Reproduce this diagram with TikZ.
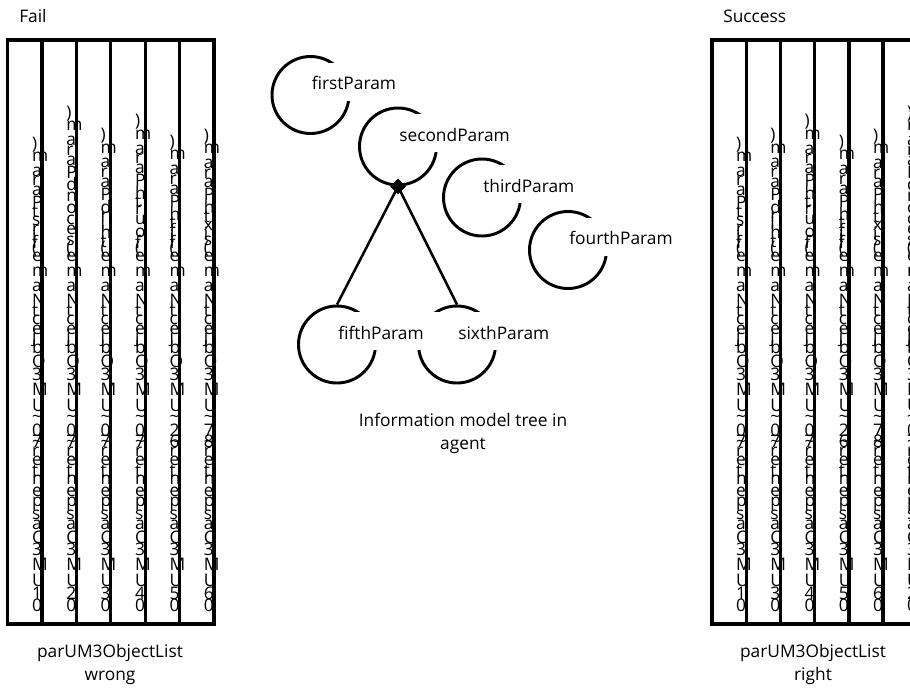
\documentclass[tikz,border=0pt]{standalone}
\usepackage{fontspec}
\setmainfont{Open Sans}
\usetikzlibrary{shapes.geometric}

% Stack glyphs upright, one under the other; each glyph advances by its own width.
\newbox\glyphbox
\newcommand\tld{\char"7E\relax}
\makeatletter
\def\vs@stop{\vs@end}
\def\vs@loop#1{\def\vs@arg{#1}\ifx\vs@arg\vs@stop\else\vs@put{#1}\expandafter\vs@loop\fi}
\def\vs@put#1{\setbox\glyphbox\hbox{#1}\dimen@1.16\wd\glyphbox
  \vbox to\dimen@{\vss\hbox to\z@{\box\glyphbox\hss}\vss}}
\newcommand\glyphstack[1]{\vbox{\offinterlineskip\vs@loop#1\vs@end}}
\makeatother
% #1 reversed parameter name, #2 #3 code digits, #4 index digit
\newcommand\paramtext[4]{\glyphstack{) m a r a P #1 ( e m a N t c e j b O 3 M U \tld #2 {\rlap{\tld}#3} r e t n e p s a C 3 M U #4 0}}

\begin{document}
\begin{tikzpicture}[x=0.75pt, y=-0.75pt,
  font=\fontsize{13}{17.25}\selectfont,
  colbox/.style={draw, line width=2.4pt, minimum width=25.8pt, minimum height=438pt, inner sep=0pt},
  coltext/.style={anchor=south, inner sep=0pt},
  pcircle/.style={circle, draw, line width=2.2pt, minimum size=57.75pt, inner sep=0pt},
  plabel/.style={anchor=base west, fill=white, inner xsep=12pt, inner ysep=0pt, text height=20.4pt, text depth=8.1pt},
  edge/.style={line width=1.9pt},
  caption/.style={align=center, anchor=north, inner sep=0pt}]
\useasboundingbox (0,0) rectangle (910,687);
\clip (0,0) rectangle (910,687);

% ---- list on the left ----
\node[coltext] (lt1) at (32.0,611)  {\paramtext{t s r i f}{0}{7}{1}};
\node[coltext] (lt2) at (66.3,611)  {\paramtext{d n o c e s}{0}{7}{2}};
\node[coltext] (lt3) at (100.7,611) {\paramtext{d r i h t}{0}{7}{3}};
\node[coltext] (lt4) at (135.1,611) {\paramtext{h t r u o f}{0}{7}{4}};
\node[coltext] (lt5) at (169.5,611) {\paramtext{h t f i f}{2}{6}{5}};
\node[coltext] (lt6) at (203.9,611) {\paramtext{h t x i s}{7}{8}{6}};
\foreach \i/\x in {1/24.7,2/59.1,3/93.5,4/127.9,5/162.3,6/196.7}
  \node[colbox] (lc\i) at (\x,332) {};

% ---- list on the right ----
\node[coltext] (rt1) at (736.2,611) {\paramtext{t s r i f}{0}{7}{1}};
\node[coltext] (rt2) at (770.4,611) {\paramtext{d r i h t}{0}{7}{3}};
\node[coltext] (rt3) at (804.6,611) {\paramtext{h t r u o f}{0}{7}{4}};
\node[coltext] (rt4) at (838.8,611) {\paramtext{h t f i f}{2}{6}{5}};
\node[coltext] (rt5) at (873.0,611) {\paramtext{h t x i s}{7}{8}{6}};
\node[coltext] (rt6) at (907.2,611) {\paramtext{d n o c e s}{0}{7}{2}};
\foreach \i/\x in {1/729.1,2/763.3,3/797.5,4/831.7,5/865.9,6/900.1}
  \node[colbox] (rc\i) at (\x,332) {};

% ---- headings and captions ----
\node[anchor=base west, inner sep=0pt] (fail) at (19,22) {Fail};
\node[anchor=base west, inner sep=0pt] (success) at (723,22) {Success};
\node[caption] (wrong) at (110,644) {parUM3ObjectList\\wrong};
\node[caption] (right) at (813,644) {parUM3ObjectList\\right};
\node[caption] (tree) at (463,413) {Information model tree in\\agent};

% ---- information model tree ----
\node[pcircle] (c1) at (310.5,95) {};
\node[pcircle] (c2) at (398,146.5) {};
\node[pcircle] (c3) at (482,197.5) {};
\node[pcircle] (c4) at (568,250) {};
\node[pcircle] (c5) at (337,344.5) {};
\node[pcircle] (c6) at (457,344.5) {};
\node[diamond, fill=black, minimum size=12pt, inner sep=0pt] (d) at (c2.south) {};
\draw[edge] (d.center) -- (c5.north);
\draw[edge] (d.center) -- (c6.north);

\node[plabel] (p1) at (295.5,89.7)  {firstParam};
\node[plabel] (p2) at (383,141.2)   {secondParam};
\node[plabel] (p3) at (467,192.2)   {thirdParam};
\node[plabel] (p4) at (553,244.7)   {fourthParam};
\node[plabel] (p5) at (322,339.2)   {fifthParam};
\node[plabel] (p6) at (442,339.2)   {sixthParam};
\end{tikzpicture}
\end{document}
